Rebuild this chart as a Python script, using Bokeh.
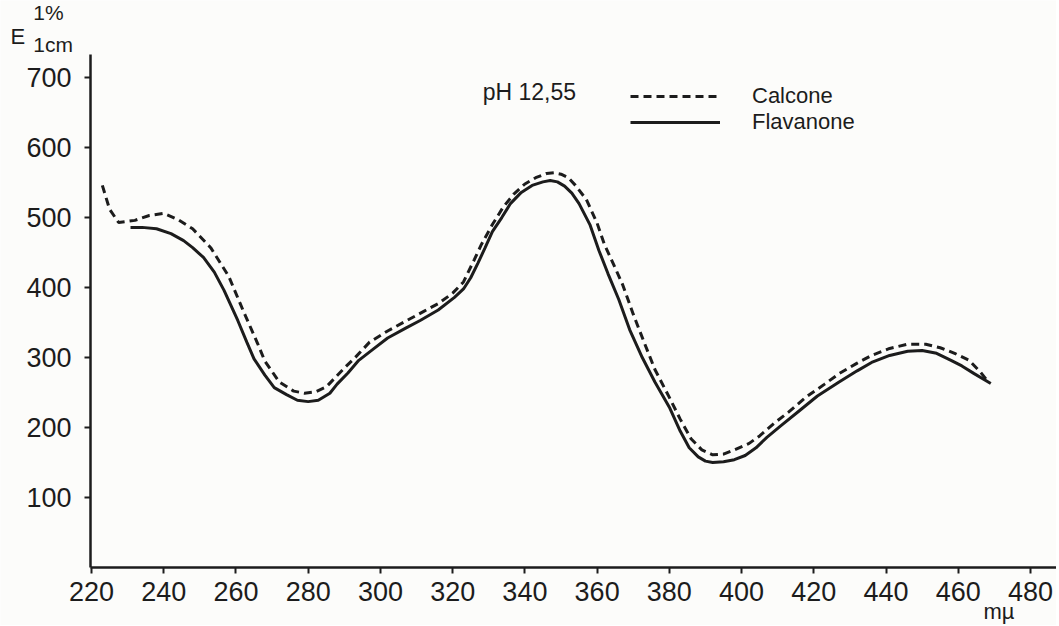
from bokeh.plotting import figure
from bokeh.models import Range1d, FixedTicker, Label, Legend, LegendItem
from bokeh.embed import file_html
from bokeh.resources import INLINE

# Data (wavelength in mµ, E 1%/1cm)
calcone_x = [223, 225, 227.5, 232, 236, 240, 244, 248, 253, 258, 262, 266, 268, 272, 276, 279,
             282, 285, 290, 293, 297, 302, 307, 312, 316, 320, 323, 326, 328, 331, 334, 337,
             340, 343, 346, 348, 350, 352, 354, 357, 360, 362, 365, 367, 370, 373, 376, 380,
             383, 386, 389, 392, 395, 398, 402, 405, 409, 413, 418, 423, 427, 432, 436, 441,
             446, 451, 455, 459, 463, 466, 468.5]
calcone_y = [546, 512, 493, 496, 503, 506, 497, 484, 457, 416, 367, 320, 295, 265, 252, 249,
             251, 258, 285, 300, 322, 338, 352, 366, 377, 392, 408, 440, 462, 490, 515, 534,
             548, 557, 563, 564, 562, 557, 546, 526, 492, 462, 428, 405, 362, 322, 283, 243,
             212, 184, 168, 161, 162, 168, 177, 188, 206, 222, 244, 262, 277, 292, 303, 313,
             319, 319, 314, 306, 296, 280, 264]

flavanone_x = [230.8, 234, 238, 242, 245.5, 248, 251, 254, 256.7, 260.5, 263, 265, 268, 270.6,
               274, 277, 280, 282.8, 286, 288, 291, 294, 298, 302, 307, 311, 316, 320.5, 323,
               325, 327, 329, 331, 333.6, 336, 339, 342, 345, 347, 349, 351, 353, 355, 358,
               360.5, 363, 366, 369, 372.5, 376, 380, 383, 385.5, 388, 390, 392, 395, 398, 401,
               404, 407, 411, 416, 421, 427, 432, 436, 441, 446, 450, 454, 458, 461, 464.4, 469]
flavanone_y = [486, 486, 484, 477, 467, 457, 443, 422, 396, 353, 322, 298, 275, 257,
               247, 239, 237, 239, 249, 262, 278, 296, 312, 328, 342, 353, 368, 386, 398,
               414, 435, 457, 480, 500, 520, 536, 546, 551, 553, 551, 545, 535, 520, 490,
               453, 420, 383, 340, 300, 265, 229, 195, 171, 158, 152, 150, 151, 154, 160,
               171, 186, 203, 224, 245, 265, 281, 293, 303, 309, 310, 306, 296, 288, 277, 263]

x_ticks = [220, 240, 260, 280, 300, 320, 340, 360, 380, 400, 420, 440, 460, 480]
y_ticks = [100, 200, 300, 400, 500, 600, 700]

INK = "#1c1c1c"
BG = "#fcfcfa"
FONT = "Liberation Sans"

X0, X1 = 219.72, 487.2    # drawn extent of the wavelength axis
Y0, Y1 = 0, 733           # drawn extent of the E axis

p = figure(width=1056, height=625, output_backend="svg", toolbar_location=None,
           x_range=Range1d(194.8, 487.2), y_range=Range1d(-82.9, 810.2),
           min_border_left=0, min_border_right=0, min_border_top=0, min_border_bottom=0)
p.background_fill_color = BG
p.border_fill_color = BG
p.outline_line_color = None
p.grid.visible = False

for ax in (p.xaxis[0], p.yaxis[0]):
    ax.axis_line_color = INK
    ax.axis_line_width = 2.5
    ax.major_tick_line_color = INK
    ax.major_tick_line_width = 2
    ax.major_tick_in = 0
    ax.major_tick_out = 6
    ax.minor_tick_line_color = None
    ax.major_label_text_font = FONT
    ax.major_label_text_font_size = "27px"
    ax.major_label_text_color = INK

p.xaxis.fixed_location = Y0
p.yaxis.fixed_location = X0
p.xaxis.bounds = (X0, X1)
p.yaxis.bounds = (Y0, Y1)
p.xaxis.ticker = FixedTicker(ticks=x_ticks)
p.yaxis.ticker = FixedTicker(ticks=y_ticks)
p.xaxis.major_label_standoff = 9
p.yaxis.major_label_standoff = 13

r_c = p.line(calcone_x, calcone_y, line_color=INK, line_width=3, line_dash="8 5")
r_f = p.line(flavanone_x, flavanone_y, line_color=INK, line_width=3)

legend = Legend(items=[LegendItem(label="Calcone", renderers=[r_c]),
                       LegendItem(label="Flavanone", renderers=[r_f])],
                location=(630, 490), padding=0, spacing=0, glyph_width=90, glyph_height=24,
                label_height=24, label_standoff=32, background_fill_alpha=0,
                border_line_alpha=0, label_text_font=FONT, label_text_font_size="22px",
                label_text_color=INK)
p.add_layout(legend, "center")

def lab(text, x, y, size):
    p.add_layout(Label(x=x, y=y, text=text, text_font=FONT, text_font_size=size,
                       text_color=INK, text_baseline="middle"))

lab("pH 12,55", 328.3, 680, "23px")
lab("E", 197.6, 759, "22px")
lab("1%", 203.9, 793, "21px")
lab("1cm", 203.9, 747, "21px")
lab("mµ", 467.0, -63, "22px")

open("out.html", "w").write(file_html(p, INLINE))
